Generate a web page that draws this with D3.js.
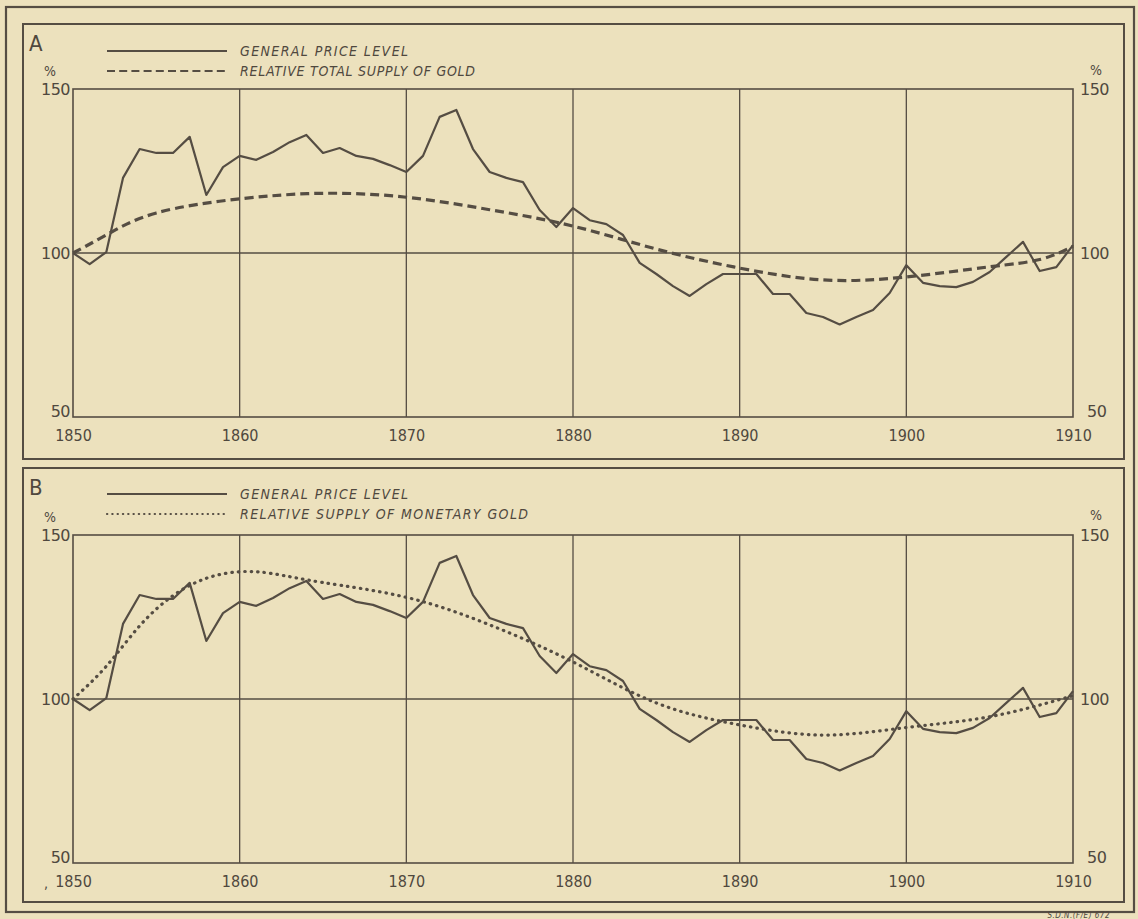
<!DOCTYPE html>
<html>
<head>
<meta charset="utf-8">
<script src="https://cdn.jsdelivr.net/npm/d3@7"></script>
<style>
  body { margin: 0; background: #ece1bd; }
  svg { display: block; }
  text { fill: #4f483e; font-family: "DejaVu Sans Condensed", "DejaVu Sans", sans-serif; }
</style>
</head>
<body>
<div id="viz"></div>
<script>
// ---- data ----
var years = d3.range(1850, 1911)
var priceLevel = [100, 96.6, 100.3, 122.9, 131.7, 130.5, 130.5, 135.4, 117.7, 126.2,
  129.6, 128.4, 130.8, 133.8, 136, 130.5, 132, 129.6, 128.7, 126.8,
  124.7, 129.6, 141.5, 143.6, 131.7, 124.7, 122.9, 121.6, 113.1, 107.9,
  113.7, 110, 108.8, 105.5, 97, 93.6, 89.9, 86.9, 90.5, 93.6,
  93.6, 93.6, 87.5, 87.5, 81.7, 80.5, 78.2, 80.5, 82.6, 87.8,
  96.3, 90.9, 89.9, 89.6, 91.2, 94.2, 98.8, 103.4, 94.5, 95.7,
  102.4]

var totalGoldYears = [1850, 1852, 1855, 1860, 1865, 1870, 1875, 1880, 1885, 1890, 1895, 1900, 1905, 1908, 1910]
var totalGold = [100, 105.5, 112.2, 116.5, 118.2, 117, 113.2, 108.2, 101.2, 95.4, 91.8, 92.7, 95.8, 98, 102]

var monetaryGoldYears = [1850, 1852, 1854, 1856, 1858, 1860, 1862, 1865, 1870, 1875, 1880, 1885, 1890, 1895, 1900, 1905, 1910]
var monetaryGold = [100, 110, 122.3, 131.5, 136.8, 138.8, 138.2, 135.5, 131, 122.6, 111.3, 98.8, 92.1, 89, 91.3, 94.6, 101]

var decadeTicks = [1850, 1860, 1870, 1880, 1890, 1900, 1910]
var valueTicks = [50, 100, 150]

var ink = "#554d43"

var svg = d3.select("#viz")
  .append("svg")
  .attr("width", 1138)
  .attr("height", 919)

// ---- frames ----
svg.append("rect")
  .attr("x", 6).attr("y", 7).attr("width", 1128).attr("height", 905)
  .attr("fill", "none").attr("stroke", ink).attr("stroke-width", 2.2)

svg.append("text")
  .attr("x", 1110).attr("y", 918)
  .attr("text-anchor", "end")
  .style("font-size", "8px")
  .style("font-style", "italic")
  .style("letter-spacing", "0.5px")
  .text("S.D.N.(F/E) 672")

function panel(opts) {
  var g = svg.append("g")

  // panel frame
  g.append("rect")
    .attr("x", 23).attr("y", opts.frameTop)
    .attr("width", 1101).attr("height", opts.frameBottom - opts.frameTop)
    .attr("fill", "none").attr("stroke", ink).attr("stroke-width", 2)

  var xScale = d3.scaleLinear()
    .domain([1850, 1910])
    .range([73, 1073])

  var yScale = d3.scaleLinear()
    .domain([50, 150])
    .range([opts.bottom, opts.top])

  // step 1 : grid ----
  g.append("g")
    .selectAll("line")
    .data(decadeTicks.slice(1, -1))
    .enter()
    .append("line")
      .attr("x1", d => xScale(d)).attr("x2", d => xScale(d))
      .attr("y1", opts.top).attr("y2", opts.bottom)
      .attr("stroke", ink).attr("stroke-width", 1.3)

  g.append("line")
    .attr("x1", xScale(1850)).attr("x2", xScale(1910))
    .attr("y1", yScale(100)).attr("y2", yScale(100))
    .attr("stroke", ink).attr("stroke-width", 1.3)

  g.append("rect")
    .attr("x", xScale(1850)).attr("y", yScale(150))
    .attr("width", xScale(1910) - xScale(1850))
    .attr("height", yScale(50) - yScale(150))
    .attr("fill", "none").attr("stroke", ink).attr("stroke-width", 1.6)

  // step 2 : axes (labels only) ----
  var x_axis = d3.axisBottom(xScale)
    .tickValues(decadeTicks)
    .tickSize(0)
    .tickPadding(13)
    .tickFormat(d3.format("d"))

  var xa = g.append("g")
    .attr("transform", "translate(0," + opts.bottom + ")")
    .call(x_axis)
  xa.select(".domain").remove()
  xa.selectAll("text")
    .attr("fill", ink)
    .style("font-size", "16px")
    .style("font-family", "'DejaVu Sans Condensed', sans-serif")
    .style("font-weight", "300")

  var y_left = d3.axisLeft(yScale).tickValues(valueTicks).tickSize(0).tickPadding(3)
  var y_right = d3.axisRight(yScale).tickValues(valueTicks).tickSize(0).tickPadding(7)

  var yl = g.append("g").attr("transform", "translate(" + xScale(1850) + ",0)").call(y_left)
  var yr = g.append("g").attr("transform", "translate(" + xScale(1910) + ",0)").call(y_right)
  ;[yl, yr].forEach(function(a) {
    a.select(".domain").remove()
    a.selectAll("text")
      .attr("fill", ink)
      .style("font-size", "16px")
      .style("font-family", "'DejaVu Sans', sans-serif")
      .style("letter-spacing", "-0.5px")
      .attr("dy", d => d == 50 ? "-0.05em" : "0.32em")
  })
  yr.selectAll("text").filter(d => d == 50).attr("dx", "7")

  // % signs
  g.append("text").attr("x", 50).attr("y", yScale(150) - 13)
    .attr("text-anchor", "middle").style("font-size", "14px").text("%")
  g.append("text").attr("x", 1096).attr("y", yScale(150) - opts.rightPctUp)
    .attr("text-anchor", "middle").style("font-size", "14px").text("%")

  // step 3 : lines ----
  var priceLine = d3.line()
    .x((d, i) => xScale(years[i]))
    .y(d => yScale(d))

  var goldLine = d3.line()
    .x((d, i) => xScale(opts.goldYears[i]))
    .y(d => yScale(d))
    .curve(d3.curveNatural)

  g.append("path")
    .datum(opts.gold)
    .attr("d", goldLine)
    .attr("fill", "none")
    .attr("stroke", ink)
    .attr("stroke-width", opts.dotted ? 3.2 : 3.2)
    .attr("stroke-dasharray", opts.dotted ? "0.5,6" : "9,5")
    .attr("stroke-linecap", opts.dotted ? "round" : "butt")

  g.append("path")
    .datum(priceLevel)
    .attr("d", priceLine)
    .attr("fill", "none")
    .attr("stroke", ink)
    .attr("stroke-width", 2.2)
    .attr("stroke-linejoin", "round")

  // step 4 : legend ----
  g.append("text")
    .attr("x", 29).attr("y", opts.frameTop + 27)
    .style("font-size", "22px")
    .text(opts.letter)

  g.append("line")
    .attr("x1", 107).attr("x2", 227)
    .attr("y1", opts.legendY).attr("y2", opts.legendY)
    .attr("stroke", ink).attr("stroke-width", 1.8)
  g.append("line")
    .attr("x1", 107).attr("x2", 227)
    .attr("y1", opts.legendY + 20).attr("y2", opts.legendY + 20)
    .attr("stroke", ink)
    .attr("stroke-width", opts.dotted ? 2.2 : 2)
    .attr("stroke-dasharray", opts.dotted ? "0.3,5" : "8,4.2")
    .attr("stroke-linecap", opts.dotted ? "round" : "butt")

  g.append("text")
    .attr("x", 240).attr("y", opts.legendY + 5)
    .style("font-size", "14px").style("font-style", "italic")
    .attr("textLength", 168).attr("lengthAdjust", "spacing")
    .text("GENERAL PRICE LEVEL")
  g.append("text")
    .attr("x", 240).attr("y", opts.legendY + 25)
    .style("font-size", "14px").style("font-style", "italic")
    .attr("textLength", opts.goldLabelWidth).attr("lengthAdjust", "spacing")
    .text(opts.goldLabel)
}

panel({
  letter: "A", frameTop: 24, frameBottom: 459, top: 89, bottom: 417,
  legendY: 51, goldYears: totalGoldYears, gold: totalGold, dotted: false,
  goldLabel: "RELATIVE TOTAL SUPPLY OF GOLD", goldLabelWidth: 235, rightPctUp: 14
})

panel({
  letter: "B", frameTop: 468, frameBottom: 902, top: 535, bottom: 863,
  legendY: 494, goldYears: monetaryGoldYears, gold: monetaryGold, dotted: true,
  goldLabel: "RELATIVE SUPPLY OF MONETARY GOLD", goldLabelWidth: 288, rightPctUp: 15
})

// stray mark left of 1850 in panel B
svg.append("text").attr("x", 44).attr("y", 888).style("font-size", "14px").text(",")
</script>
</body>
</html>
